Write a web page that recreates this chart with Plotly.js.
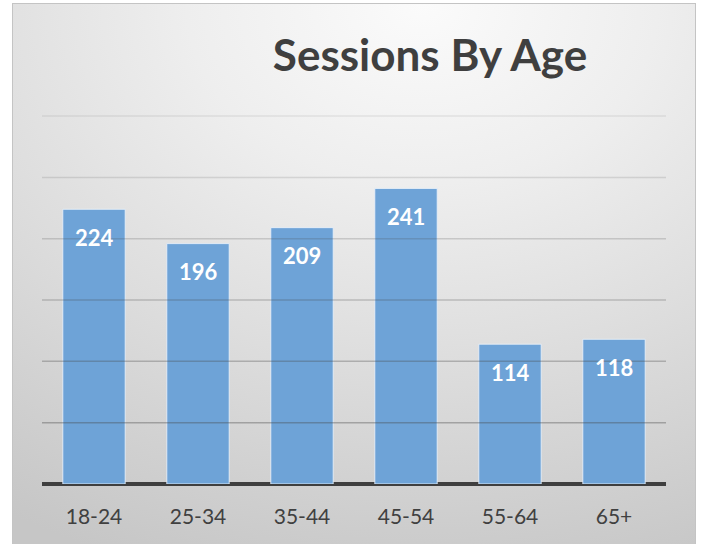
<!DOCTYPE html>
<html>
<head>
<meta charset="utf-8">
<script src="https://cdn.plot.ly/plotly-3.0.1.min.js"></script>
<style>
html,body{margin:0;padding:0;background:#fff;width:703px;height:544px;overflow:hidden;}
#bg{position:absolute;left:12px;top:3px;width:682px;height:545px;border:1px solid #c4c4c4;
background:radial-gradient(ellipse 115% 110% at 60% 0%, #fbfbfb 0%, #eeeeee 30%, #dcdcdc 62%, #c6c6c6 100%);}
#chart{position:absolute;left:0;top:0;width:703px;height:544px;}
</style>
</head>
<body>
<div id="bg"></div>
<div id="chart"></div>
<script>
const categories = ["18-24", "25-34", "35-44", "45-54", "55-64", "65+"];
const sessions = [224, 196, 209, 241, 114, 118];
const yTicks = [50, 100, 150, 200, 250, 300];

const trace = {
  type: "bar",
  x: categories,
  y: sessions,
  marker: {color: "#6ea3d7", line: {color: "rgba(235,242,250,0.85)", width: 1}},
  hoverinfo: "none"
};

const annotations = categories.map((c, i) => ({
  x: c, y: sessions[i], xref: "x", yref: "y",
  text: String(sessions[i]), showarrow: false, yshift: -28,
  font: {family: "Lato, 'Open Sans', sans-serif", size: 22, color: "#ffffff", weight: "bold"}
}));

// gridlines fade toward the top and show faintly through the bars, as in the reference
const gridShapes = yTicks.map(v => ({
  type: "line", xref: "paper", yref: "y", x0: 0, x1: 1, y0: v, y1: v,
  layer: "above",
  line: {color: "rgba(70,70,70," + (0.42 - 0.32 * (v / 300)).toFixed(3) + ")", width: 1.5}
}));

const layout = {
  width: 703, height: 544,
  margin: {l: 42, r: 37, t: 106, b: 60},
  paper_bgcolor: "rgba(0,0,0,0)",
  plot_bgcolor: "rgba(0,0,0,0)",
  bargap: 0.4,
  showlegend: false,
  title: {
    text: "<b>Sessions By Age</b>",
    x: 430 / 703, xanchor: "center",
    y: 1 - 56 / 544, yanchor: "middle",
    font: {family: "Lato, 'Open Sans', sans-serif", size: 44, color: "#3f3f3f"}
  },
  xaxis: {
    showgrid: false, showline: false, zeroline: false,
    ticks: "", tickfont: {family: "Lato, 'Open Sans', sans-serif", size: 21, color: "#404040"},
    ticklabelstandoff: 18
  },
  yaxis: {
    range: [0, 308.2], showticklabels: false,
    showgrid: false,
    zeroline: true, zerolinecolor: "#3f3f3f", zerolinewidth: 4,
    fixedrange: true
  },
  shapes: gridShapes,
  annotations: annotations
};

Plotly.newPlot("chart", [trace], layout, {displayModeBar: false, staticPlot: true});
</script>
</body>
</html>
